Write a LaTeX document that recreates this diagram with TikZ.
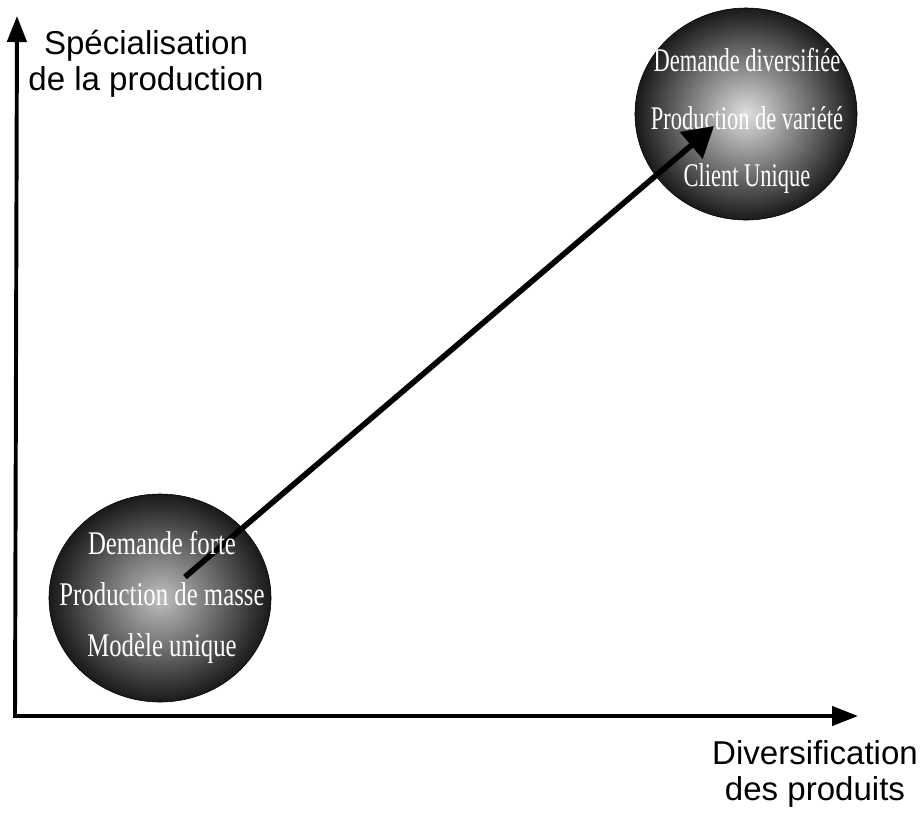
\documentclass[tikz,border=0pt]{standalone}
\usepackage{fontspec}
\setmainfont{Liberation Sans}
\newfontfamily\bullefont[FakeStretch=0.75]{Liberation Serif}
\newfontfamily\bulleetroite[FakeStretch=0.68]{Liberation Serif}
\usetikzlibrary{arrows.meta,shapes.geometric}
\begin{document}
\begin{tikzpicture}[x=0.025cm,y=-0.025cm,
        axe/.style={line width=2.8pt,line join=miter,{Triangle[length=0.65cm,width=0.48cm]}-{Triangle[length=0.65cm,width=0.48cm]}},
        fleche/.style={line width=4pt,-{Triangle[length=0.75cm,width=0.85cm]}},
        bulle/.style={ellipse,draw=black,thin,minimum width=5.55cm,minimum height=5.2cm,inner sep=0pt,shade,outer color=black!90},
        texte/.style={align=center,text=white,font=\bullefont\fontsize{23.5}{36.3}\selectfont},
        etiq/.style={align=center,inner sep=0pt,font=\fontsize{23.5}{25.6}\selectfont}]
    \useasboundingbox (0,0) rectangle (921,812);
    \node [bulle,inner color=gray!50] (masse) at (160,598) {};
    \node [bulle,inner color=gray!25,minimum height=5.3cm] (variete) at (746,114) {};
    \node [texte,font=\bulleetroite\fontsize{23.5}{41}\selectfont] (tvariete) at (747,121) {Demande diversifiée\\Production de variété\\Client Unique};
    \coordinate (depart) at (185,577);
    \coordinate (fin) at (714,126);
    \draw [fleche] (depart) -- (fin);
    \node [texte] (tmasse) at (162,597) {Demande forte\\Production de masse\\Modèle unique};
    % axes
    \coordinate (O) at (15,716);
    \coordinate (haut) at (17,16);
    \coordinate (droite) at (858,716);
    \draw [axe] (haut) -- (O) -- (droite);
    \node [etiq] (ylab) at (146,64) {Spécialisation\\de la production};
    \node [etiq] (xlab) at (815,774) {Diversification\\des produits};
\end{tikzpicture}
\end{document}
